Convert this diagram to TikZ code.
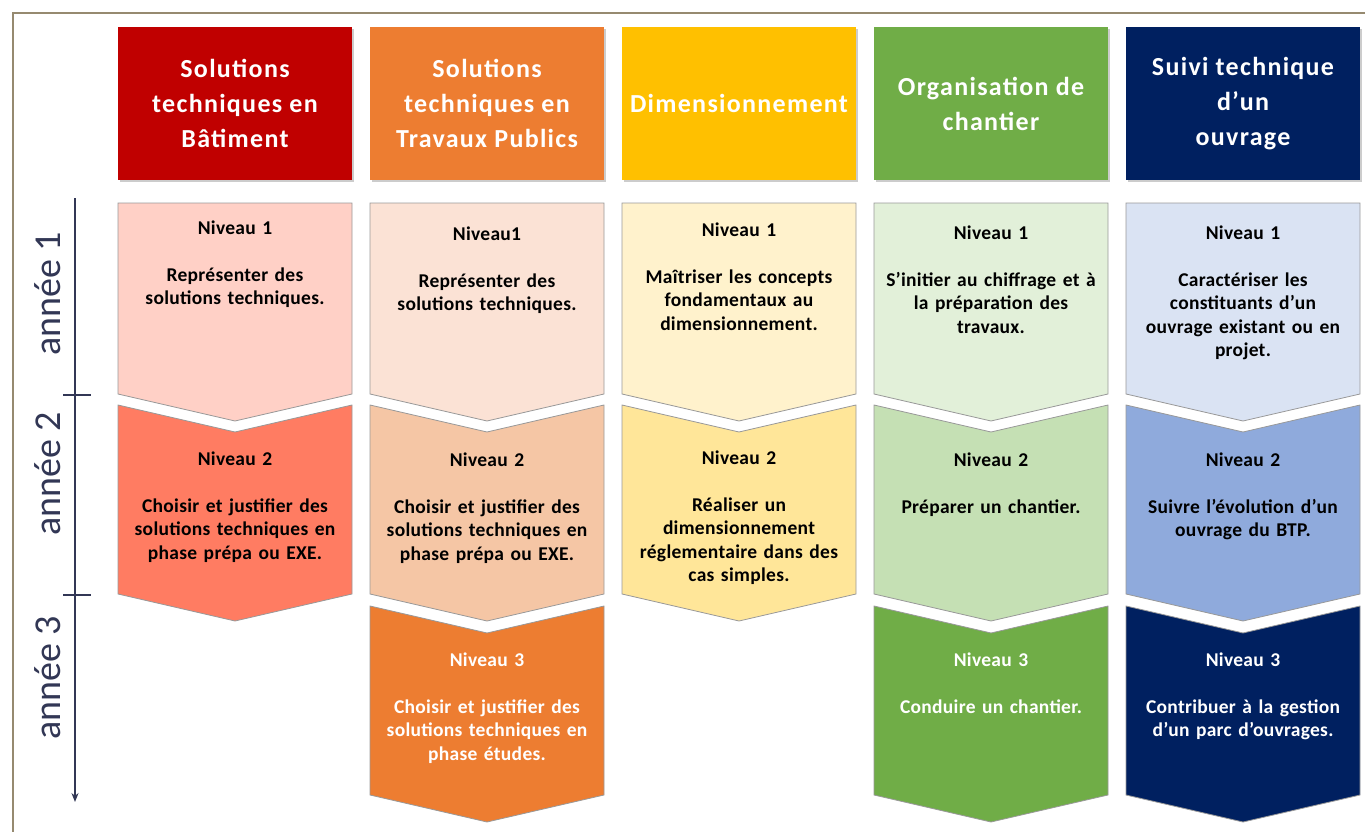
\documentclass[tikz,border=0pt]{standalone}
\usepackage{fontspec}
\setmainfont{Carlito}
\newfontfamily\headfont[LetterSpace=5]{Carlito}
\newfontfamily\bodyfont[LetterSpace=1.5]{Carlito}
\usetikzlibrary{arrows.meta}
\usetikzlibrary{shadows}
\definecolor{framebrown}{RGB}{150,138,112}
\definecolor{axisblue}{RGB}{50,55,85}
\definecolor{batA}{RGB}{192,0,0}
\definecolor{batB}{RGB}{255,208,198}
\definecolor{batC}{RGB}{255,124,98}
\definecolor{tpA}{RGB}{237,125,49}
\definecolor{tpB}{RGB}{251,226,213}
\definecolor{tpC}{RGB}{245,198,165}
\definecolor{dimA}{RGB}{255,192,0}
\definecolor{dimB}{RGB}{255,242,204}
\definecolor{dimC}{RGB}{255,230,153}
\definecolor{orgA}{RGB}{112,173,71}
\definecolor{orgB}{RGB}{226,240,217}
\definecolor{orgC}{RGB}{197,224,180}
\definecolor{suiA}{RGB}{0,32,96}
\definecolor{suiB}{RGB}{218,227,243}
\definecolor{suiC}{RGB}{143,170,220}

\begin{document}
\begin{tikzpicture}[x=1pt,y=-1pt,line join=miter,
	head/.style={minimum width=234pt,minimum height=153pt,inner sep=0pt,text=white,align=center,
		font=\headfont\bfseries\fontsize{26}{35}\selectfont,
		drop shadow={opacity=0.4,shadow xshift=2pt,shadow yshift=-2pt}},
	chev/.style={draw=gray!80,line width=0.8pt},
	lvl/.style={anchor=north,inner sep=0pt,align=center,text width=232pt,
		font=\bodyfont\bfseries\fontsize{19.5}{23.5}\selectfont},
	year/.style={rotate=90,font=\fontsize{38}{40}\selectfont,text=axisblue},
	axis/.style={axisblue,line width=1.4pt}]
	
	\useasboundingbox (0,0) rectangle (1365,832);
	
	\draw [framebrown,line width=2pt] (13,832) -- (13,13) -- (1365,13);
	
	\coordinate (T0) at (75,198);
	\coordinate (T3) at (75,802);
	\coordinate (K1a) at (63,395);
	\coordinate (K1b) at (91,395);
	\coordinate (K2a) at (63,595);
	\coordinate (K2b) at (91,595);
	
	\draw [axis,-{Stealth[length=9pt,width=7pt]}] (T0) -- (T3);
	\draw [axis] (K1a) -- (K1b);
	\draw [axis] (K2a) -- (K2b);
	
	\node at (48,294) [year] (Y1) {année 1};
	\node at (48,474) [year] (Y2) {année 2};
	\node at (48,678) [year] (Y3) {année 3};
	
	\node at (235,103.5) [head,fill=batA] (H1) {Solutions\\techniques en\\Bâtiment};
	\node at (487,103.5) [head,fill=tpA] (H2) {Solutions\\techniques en\\Travaux Publics};
	\node at (739,103.5) [head,fill=dimA] (H3) {Dimensionnement};
	\node at (991,103.5) [head,fill=orgA] (H4) {Organisation de\\chantier};
	\node at (1243,103.5) [head,fill=suiA] (H5) {Suivi technique\\d’un\\ouvrage};
	
	\draw [chev,fill=batB] (118,203) -- ++(234,0) -- ++(0,191) -- ++(-117,27) -- ++(-117,-27) -- cycle;
	\draw [chev,fill=tpB] (370,203) -- ++(234,0) -- ++(0,191) -- ++(-117,27) -- ++(-117,-27) -- cycle;
	\draw [chev,fill=dimB] (622,203) -- ++(234,0) -- ++(0,191) -- ++(-117,27) -- ++(-117,-27) -- cycle;
	\draw [chev,fill=orgB] (874,203) -- ++(234,0) -- ++(0,191) -- ++(-117,27) -- ++(-117,-27) -- cycle;
	\draw [chev,fill=suiB] (1126,203) -- ++(234,0) -- ++(0,191) -- ++(-117,27) -- ++(-117,-27) -- cycle;
	
	\draw [chev,fill=batC] (118,405) -- ++(117,27) -- ++(117,-27) -- ++(0,189) -- ++(-117,27) -- ++(-117,-27) -- cycle;
	\draw [chev,fill=tpC] (370,405) -- ++(117,27) -- ++(117,-27) -- ++(0,189) -- ++(-117,27) -- ++(-117,-27) -- cycle;
	\draw [chev,fill=dimC] (622,405) -- ++(117,27) -- ++(117,-27) -- ++(0,189) -- ++(-117,27) -- ++(-117,-27) -- cycle;
	\draw [chev,fill=orgC] (874,405) -- ++(117,27) -- ++(117,-27) -- ++(0,189) -- ++(-117,27) -- ++(-117,-27) -- cycle;
	\draw [chev,fill=suiC] (1126,405) -- ++(117,27) -- ++(117,-27) -- ++(0,189) -- ++(-117,27) -- ++(-117,-27) -- cycle;
	
	\draw [chev,fill=tpA] (370,606) -- ++(117,27) -- ++(117,-27) -- ++(0,189) -- ++(-117,27) -- ++(-117,-27) -- cycle;
	\draw [chev,fill=orgA] (874,606) -- ++(117,27) -- ++(117,-27) -- ++(0,189) -- ++(-117,27) -- ++(-117,-27) -- cycle;
	\draw [chev,fill=suiA] (1126,606) -- ++(117,27) -- ++(117,-27) -- ++(0,189) -- ++(-117,27) -- ++(-117,-27) -- cycle;
	
	\node at (235,220.5) [lvl] (N11) {Niveau 1\\[23.5pt]Représenter des\\solutions techniques.};
	\node at (487,226.5) [lvl] (N21) {Niveau1\\[23.5pt]Représenter des\\solutions techniques.};
	\node at (739,222.5) [lvl] (N31) {Niveau 1\\[23.5pt]Maîtriser les concepts\\fondamentaux au\\dimensionnement.};
	\node at (991,225.5) [lvl] (N41) {Niveau 1\\[23.5pt]S’initier au chiffrage et à\\la préparation des\\travaux.};
	\node at (1243,225.5) [lvl] (N51) {Niveau 1\\[23.5pt]Caractériser les\\constituants d’un\\ouvrage existant ou en\\projet.};
	
	\node at (235,451.5) [lvl] (N12) {Niveau 2\\[23.5pt]Choisir et justifier des\\solutions techniques en\\phase prépa ou EXE.};
	\node at (487,452.5) [lvl] (N22) {Niveau 2\\[23.5pt]Choisir et justifier des\\solutions techniques en\\phase prépa ou EXE.};
	\node at (739,450.5) [lvl] (N32) {Niveau 2\\[23.5pt]Réaliser un\\dimensionnement\\réglementaire dans des\\cas simples.};
	\node at (991,452.5) [lvl] (N42) {Niveau 2\\[23.5pt]Préparer un chantier.};
	\node at (1243,452.5) [lvl] (N52) {Niveau 2\\[23.5pt]Suivre l’évolution d’un\\ouvrage du BTP.};
	
	\node at (487,652.5) [lvl,white] (N23) {Niveau 3\\[23.5pt]Choisir et justifier des\\solutions techniques en\\phase études.};
	\node at (991,652.5) [lvl,white] (N43) {Niveau 3\\[23.5pt]Conduire un chantier.};
	\node at (1243,652.5) [lvl,white] (N53) {Niveau 3\\[23.5pt]Contribuer à la gestion\\d’un parc d’ouvrages.};
\end{tikzpicture}
\end{document}
